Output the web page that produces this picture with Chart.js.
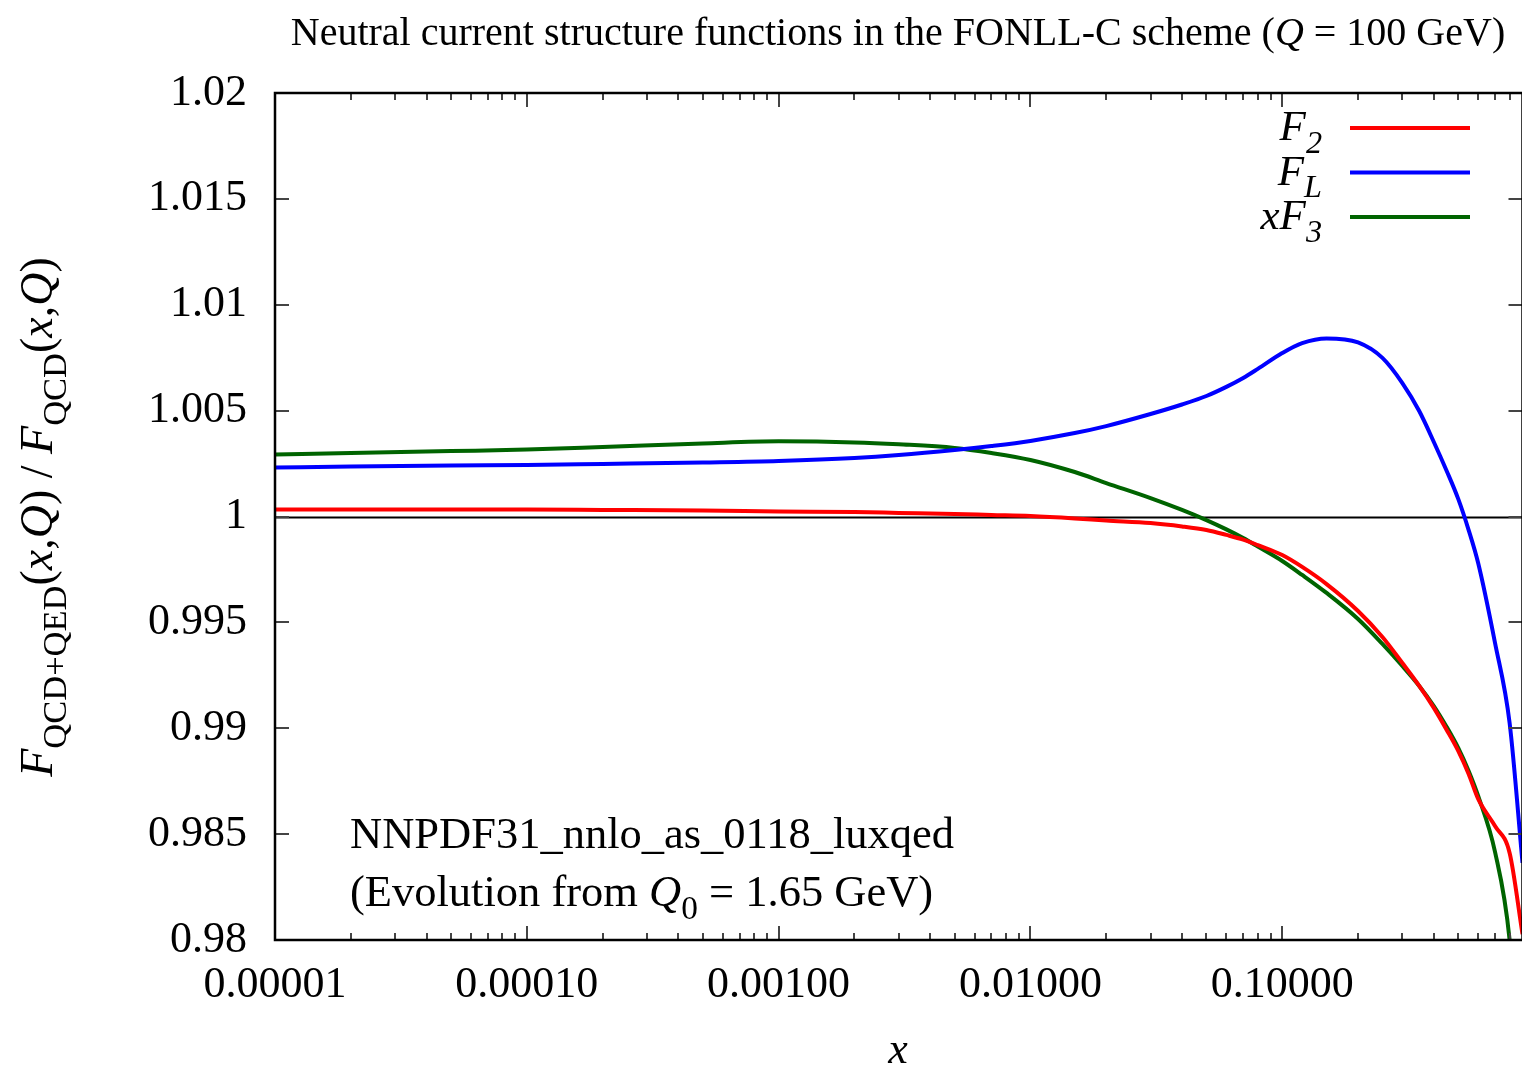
<!DOCTYPE html>
<html>
<head>
<meta charset="utf-8">
<script src="https://cdn.jsdelivr.net/npm/chart.js@4/dist/chart.umd.min.js"></script>
<style>
  html, body { margin: 0; padding: 0; background: #fff; }
  #wrap { width: 1522px; height: 1070px; overflow: hidden; }
</style>
</head>
<body>
<div id="wrap"><canvas id="myChart" width="1530" height="1070"></canvas></div>
<script>
// x grid of the structure-function ratios
var xs = [1e-5, 2e-5, 5e-5, 1e-4, 2e-4, 5e-4, 1e-3, 2e-3, 3e-3, 5e-3, 7e-3,
  0.01, 0.015, 0.02, 0.03, 0.04, 0.05, 0.06, 0.07, 0.08, 0.1, 0.12, 0.15,
  0.2, 0.25, 0.3, 0.35, 0.4, 0.45, 0.5, 0.55, 0.6, 0.7, 0.8, 0.9];

// F_QCD+QED / F_QCD
var f2 = [1.00033, 1.00033, 1.00033, 1.00033, 1.00031, 1.00028, 1.00024, 1.00021, 1.00017, 1.00012, 1.00007,
  1.00002, 0.99991, 0.99981, 0.99969, 0.99953, 0.99936, 0.99913, 0.99891, 0.99865, 0.99818, 0.99762, 0.99681,
  0.99554, 0.99431, 0.99308, 0.99200, 0.99096, 0.98992, 0.98893, 0.98784, 0.98666, 0.98538, 0.98411, 0.98028];
var fL = [1.00231, 1.00236, 1.00241, 1.00243, 1.00248, 1.00255, 1.00262, 1.00276, 1.00290, 1.00314, 1.00333,
  1.00357, 1.00394, 1.00427, 1.00484, 1.00529, 1.00569, 1.00612, 1.00654, 1.00697, 1.00772, 1.00819, 1.00841,
  1.00822, 1.00749, 1.00630, 1.00498, 1.00352, 1.00215, 1.00083, 0.99936, 0.99780, 0.99403, 0.99025, 0.98364];
var xF3 = [1.00293, 1.00300, 1.00309, 1.00316, 1.00328, 1.00345, 1.00355, 1.00350, 1.00341, 1.00324, 1.00300,
  1.00267, 1.00210, 1.00158, 1.00087, 1.00031, 0.99983, 0.99939, 0.99898, 0.99858, 0.99790, 0.99724, 0.99639,
  0.99516, 0.99398, 0.99294, 0.99200, 0.99105, 0.99006, 0.98907, 0.98798, 0.98680, 0.98416, 0.98000, 0.97150];

var xMajor = [1e-5, 1e-4, 1e-3, 1e-2, 1e-1];
var yTicks = [0.98, 0.985, 0.99, 0.995, 1, 1.005, 1.01, 1.015, 1.02];

var SERIF = '"Liberation Serif", "DejaVu Serif", serif';

function pts(ys) {
  return xs.map((x, i) => ({ x: x, y: ys[i] }));
}

// draw a run of text pieces: {t, it: italic, sub: subscript}
function richWidth(ctx, parts, size) {
  var w = 0;
  parts.forEach(p => {
    var s = p.sub ? size * 0.75 : size;
    ctx.font = (p.it ? 'italic ' : '') + s + 'px ' + SERIF;
    w += ctx.measureText(p.t).width;
  });
  return w;
}
function drawRich(ctx, parts, x, y, size, align) {
  var w = richWidth(ctx, parts, size);
  var cx = align === 'right' ? x - w : align === 'center' ? x - w / 2 : x;
  ctx.textBaseline = 'alphabetic';
  ctx.textAlign = 'left';
  parts.forEach(p => {
    var s = p.sub ? size * 0.75 : size;
    ctx.font = (p.it ? 'italic ' : '') + s + 'px ' + SERIF;
    ctx.fillText(p.t, cx, p.sub ? y + size * 0.3 : y);
    cx += ctx.measureText(p.t).width;
  });
}

var frame = {
  id: 'frame',
  beforeDatasetsDraw(chart) {
    var ctx = chart.ctx, a = chart.chartArea, ys = chart.scales.y;
    var y1 = Math.round(ys.getPixelForValue(1)) + 0.5;
    ctx.save();
    ctx.strokeStyle = '#000';
    ctx.lineWidth = 2;
    ctx.beginPath();
    ctx.moveTo(a.left, y1);
    ctx.lineTo(a.right, y1);
    ctx.stroke();
    ctx.restore();
  },
  afterDatasetsDraw(chart) {
    var ctx = chart.ctx, a = chart.chartArea;
    var xsc = chart.scales.x, ysc = chart.scales.y;
    ctx.save();
    ctx.strokeStyle = '#444';
    ctx.lineWidth = 2;
    ctx.beginPath();
    // log ticks on bottom and top
    for (var d = -5; d <= -1; d++) {
      for (var m = 1; m <= 9; m++) {
        var v = m * Math.pow(10, d);
        if (v > xsc.max) continue;
        var px = Math.round(xsc.getPixelForValue(v));
        var len = m === 1 ? 14 : 7;
        ctx.moveTo(px, a.bottom);
        ctx.lineTo(px, a.bottom - len);
        ctx.moveTo(px, a.top);
        ctx.lineTo(px, a.top + len);
      }
    }
    yTicks.forEach(v => {
      var py = Math.round(ysc.getPixelForValue(v));
      ctx.moveTo(a.left, py);
      ctx.lineTo(a.left + 14, py);
      ctx.moveTo(a.right, py);
      ctx.lineTo(a.right - 14, py);
    });
    ctx.stroke();
    ctx.strokeStyle = '#000';
    ctx.lineWidth = 2.5;
    ctx.strokeRect(a.left, a.top, a.right - a.left, a.bottom - a.top);
    ctx.restore();
  },
  afterDraw(chart) {
    var ctx = chart.ctx;
    ctx.save();
    ctx.fillStyle = '#000';
    // title
    drawRich(ctx, [
      { t: 'Neutral current structure functions in the FONLL-C scheme (' },
      { t: 'Q', it: true },
      { t: ' = 100 GeV)' }
    ], 898, 45, 40, 'center');

    // legend
    var leg = [
      { parts: [{ t: 'F', it: true }, { t: '2', it: true, sub: true }], color: '#ff0000' },
      { parts: [{ t: 'F', it: true }, { t: 'L', it: true, sub: true }], color: '#0000ff' },
      { parts: [{ t: 'xF', it: true }, { t: '3', it: true, sub: true }], color: '#006400' }
    ];
    leg.forEach((e, i) => {
      var ly = 128 + i * 44.5;
      ctx.fillStyle = '#000';
      drawRich(ctx, e.parts, 1322, ly + 12, 43, 'right');
      ctx.strokeStyle = e.color;
      ctx.lineWidth = 4;
      ctx.beginPath();
      ctx.moveTo(1350, ly);
      ctx.lineTo(1470, ly);
      ctx.stroke();
    });

    // PDF set annotation
    ctx.fillStyle = '#000';
    drawRich(ctx, [{ t: 'NNPDF31_nnlo_as_0118_luxqed' }], 350, 848, 44.5, 'left');
    drawRich(ctx, [
      { t: '(Evolution from ' },
      { t: 'Q', it: true },
      { t: '0', sub: true },
      { t: ' = 1.65 GeV)' }
    ], 350, 906, 44.5, 'left');

    // axis titles
    drawRich(ctx, [{ t: 'x', it: true }], 898, 1063, 44, 'center');
    ctx.translate(52, 517);
    ctx.rotate(-Math.PI / 2);
    drawRich(ctx, [
      { t: 'F', it: true }, { t: 'QCD+QED', sub: true },
      { t: '(' }, { t: 'x', it: true }, { t: ',' }, { t: 'Q', it: true }, { t: ') / ' },
      { t: 'F', it: true }, { t: 'QCD', sub: true },
      { t: '(' }, { t: 'x', it: true }, { t: ',' }, { t: 'Q', it: true }, { t: ')' }
    ], 0, 0, 46, 'center');
    ctx.restore();
  }
};

const ctx = document.getElementById('myChart');
var myChart = new Chart(ctx, {
  type: 'line',
  data: {
    datasets: [
      { label: 'F2', data: pts(f2), borderColor: '#ff0000' },
      { label: 'FL', data: pts(fL), borderColor: '#0000ff' },
      { label: 'xF3', data: pts(xF3), borderColor: '#006400' }
    ]
  },
  options: {
    responsive: false,
    animation: false,
    devicePixelRatio: 1,
    layout: { padding: { top: 93, right: 7.5, left: 0, bottom: 0 } },
    elements: {
      line: { borderWidth: 4, cubicInterpolationMode: 'monotone' },
      point: { radius: 0 }
    },
    scales: {
      x: {
        type: 'logarithmic',
        min: 1e-5,
        max: 0.9,
        grid: { display: false, drawTicks: false },
        border: { display: false },
        afterBuildTicks: (s) => { s.ticks = xMajor.map(v => ({ value: v })); },
        afterFit: (s) => { s.height = 130; },
        ticks: {
          autoSkip: false,
          maxRotation: 0,
          padding: 19,
          color: '#000',
          font: { family: SERIF, size: 44 },
          callback: (v) => Number(v).toFixed(5)
        }
      },
      y: {
        min: 0.98,
        max: 1.02,
        grid: { display: false, drawTicks: false },
        border: { display: false },
        afterBuildTicks: (s) => { s.ticks = yTicks.map(v => ({ value: v })); },
        afterFit: (s) => { s.width = 275; },
        ticks: {
          padding: 28,
          color: '#000',
          font: { family: SERIF, size: 44 },
          callback: (v) => String(parseFloat(Number(v).toFixed(3)))
        }
      }
    },
    plugins: {
      legend: { display: false },
      tooltip: { enabled: false }
    }
  },
  plugins: [frame]
});
</script>
</body>
</html>
